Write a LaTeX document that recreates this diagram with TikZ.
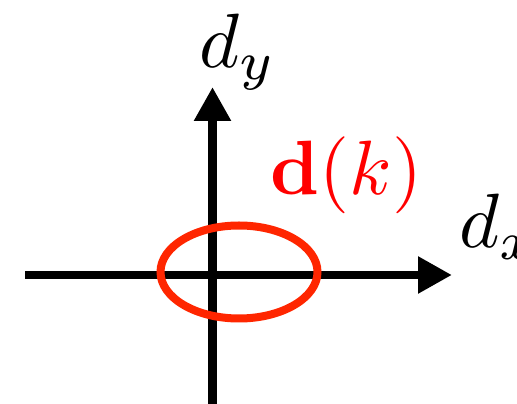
\documentclass[tikz,border=0pt]{standalone}
\usepackage{amsmath}
\usepackage{xcolor}
\usetikzlibrary{arrows.meta, shapes.geometric}
\definecolor{ellred}{RGB}{255,38,0}
\tikzset{
    axis/.style={line width=8.5pt, -{Triangle[length=34pt, width=35pt]}},
    biglabel/.style={inner sep=0pt, scale=7.7}
}
\begin{document}
\begin{tikzpicture}[x=1pt, y=1pt]
            \useasboundingbox (0,0) rectangle (517,404);
            % axis ends
            \coordinate (xstart) at (25,129);
            \coordinate (xend) at (452,129);
            \coordinate (ystart) at (212.5,-10);
            \coordinate (yend) at (212.5,317);
            
            % axes
            \draw[axis] (xstart) -- (xend);
            \draw[axis] (ystart) -- (yend);
            
            % set d(k)
            \node[draw=ellred, line width=8pt, ellipse, minimum width=157pt,
                  minimum height=93pt, inner sep=0pt] (dset) at (239,132) {};
            
            % labels
            \node[biglabel, anchor=base west] (dy) at (198,336) {$d_y$};
            \node[biglabel, anchor=base west] (dx) at (458,156) {$d_x$};
            \node[biglabel, anchor=base west, text=red] (dk) at (269,209) {$\mathbf{d}(k)$};
        \end{tikzpicture}
\end{document}
